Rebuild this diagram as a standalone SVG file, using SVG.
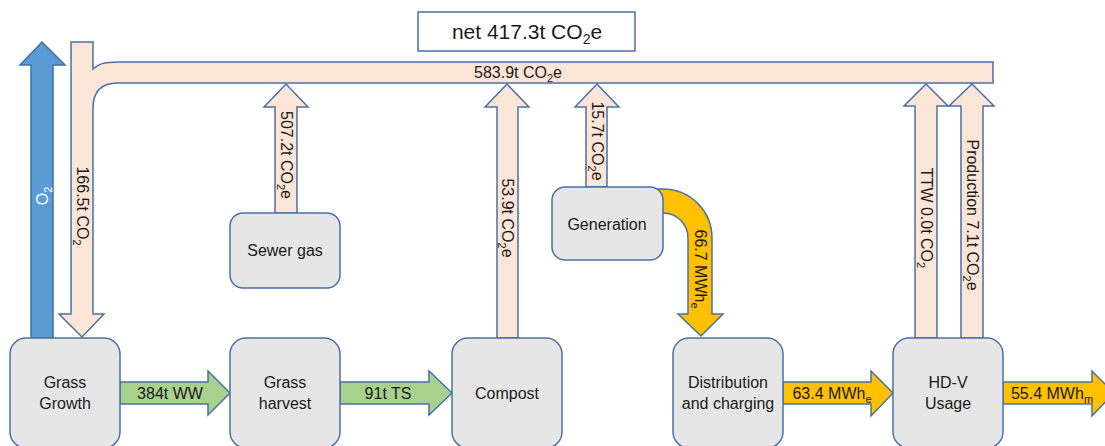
<svg xmlns="http://www.w3.org/2000/svg" width="1105" height="446" viewBox="0 0 1105 446">
<style>
.node{fill:#e7e6e6;stroke:#4a70a8;stroke-width:1.5}
.peach{fill:#fbe5d6;stroke:#4a70a8;stroke-width:1.5;stroke-linejoin:miter}
.blue{fill:#5b9bd5;stroke:#41719c;stroke-width:1.5}
.green{fill:#a9d18e;stroke:#4a70a8;stroke-width:1.5}
.orange{fill:#ffc000;stroke:#4a70a8;stroke-width:1.5}
text{font-family:"Liberation Sans",Arial,sans-serif;font-size:16px;fill:#1a1a1a;text-anchor:middle}
.w{fill:#ffffff}
.sub{font-size:11px}
</style>
<g id="connectors">
  <path id="co2-band" class="peach" d="M71 42 L93 42 L93 69 C98 64 104 62 118 62 L993 62 L993 83 L118 83 Q93 83 93 108 L93 314 L104 314 L82 337 L59 314 L71 314 Z"/>
  <polygon id="o2-arrow" class="blue" points="31,338 31,65 20,65 42,42 65,65 53,65 53,338"/>
  <polygon id="sewer-arrow" class="peach" points="275,213 275,107 264,107 286,84 308,107 297,107 297,213"/>
  <polygon id="compost-arrow" class="peach" points="497,338 497,107 485,107 507,84 529,107 518,107 518,338"/>
  <polygon id="gen-arrow" class="peach" points="586,187 586,107 575,107 597,84 619,107 607,107 607,187"/>
  <polygon id="ttw-arrow" class="peach" points="915,338 915,106 904,106 926,84 948,106 937,106 937,338"/>
  <polygon id="prod-arrow" class="peach" points="961,338 961,106 949,106 972,84 994,106 983,106 983,338"/>
  <path id="gen-dist-arrow" class="orange" d="M650 189 L663 189 A49 49 0 0 1 712 238 L712 314 L723 314 L701 336 L678 314 L688 314 L688 238 A25 25 0 0 0 663 213 L650 213 Z"/>
  <polygon id="ww-arrow" class="green" points="120,382 208,382 208,371 230,393 208,415 208,404 120,404"/>
  <polygon id="ts-arrow" class="green" points="340,382 429,382 429,371 452,393 429,415 429,404 340,404"/>
  <polygon id="mwhe-arrow" class="orange" points="783,382 871,382 871,371 893,393 871,416 871,404 783,404"/>
  <polygon id="mwhm-arrow" class="orange" points="1003,382 1092,382 1092,371 1114,393 1092,416 1092,404 1003,404"/>

  <text x="518" y="78">583.9t CO<tspan class="sub" dy="4">2</tspan><tspan dy="-4">e</tspan></text>
  <text class="w" transform="translate(42,196) rotate(-90)" x="0" y="5.5">O<tspan class="sub" dy="4">2</tspan></text>
  <text transform="translate(82,206) rotate(90)" x="0" y="5.5">166.5t CO<tspan class="sub" dy="4">2</tspan></text>
  <text transform="translate(286,155) rotate(90)" x="0" y="5.5">507.2t CO<tspan class="sub" dy="4">2</tspan><tspan dy="-4">e</tspan></text>
  <text transform="translate(507,218) rotate(90)" x="0" y="5.5">53.9t CO<tspan class="sub" dy="4">2</tspan><tspan dy="-4">e</tspan></text>
  <text transform="translate(597,141) rotate(90)" x="0" y="5.5">15.7t CO<tspan class="sub" dy="4">2</tspan><tspan dy="-4">e</tspan></text>
  <text transform="translate(700,269) rotate(90)" x="0" y="5.5">66.7 MWh<tspan class="sub" dy="4">e</tspan></text>
  <text transform="translate(926,218) rotate(90)" x="0" y="5.5">TTW 0.0t CO<tspan class="sub" dy="4">2</tspan></text>
  <text transform="translate(972,215) rotate(90)" x="0" y="5.5">Production 7.1t CO<tspan class="sub" dy="4">2</tspan><tspan dy="-4">e</tspan></text>
  <text x="170" y="399">384t WW</text>
  <text x="388" y="399">91t TS</text>
  <text x="832" y="399">63.4 MWh<tspan class="sub" dy="4">e</tspan></text>
  <text x="1052" y="399">55.4 MWh<tspan class="sub" dy="4">m</tspan></text>
</g>
<g id="net-box">
  <rect x="418" y="12" width="217" height="39" fill="#ffffff" stroke="#4a70a8" stroke-width="1.5"/>
  <text x="527" y="39" style="font-size:21px">net 417.3t CO<tspan style="font-size:14px" dy="5">2</tspan><tspan dy="-5">e</tspan></text>
</g>
<g id="grass-growth">
  <rect class="node" x="10" y="338" width="110" height="110" rx="16"/>
  <text x="65" y="388">Grass</text>
  <text x="65" y="409">Growth</text>
</g>
<g id="grass-harvest">
  <rect class="node" x="230" y="338" width="110" height="110" rx="16"/>
  <text x="285" y="388">Grass</text>
  <text x="285" y="409">harvest</text>
</g>
<g id="sewer-gas">
  <rect class="node" x="230" y="213" width="110" height="75" rx="13"/>
  <text x="285" y="256">Sewer gas</text>
</g>
<g id="compost">
  <rect class="node" x="452" y="338" width="110" height="110" rx="16"/>
  <text x="507" y="399">Compost</text>
</g>
<g id="generation">
  <rect class="node" x="552" y="187" width="111" height="73" rx="13"/>
  <text x="607" y="230">Generation</text>
</g>
<g id="distribution">
  <rect class="node" x="673" y="338" width="110" height="110" rx="16"/>
  <text x="728" y="388">Distribution</text>
  <text x="728" y="409">and charging</text>
</g>
<g id="hdv-usage">
  <rect class="node" x="893" y="338" width="110" height="110" rx="16"/>
  <text x="948" y="388">HD-V</text>
  <text x="948" y="409">Usage</text>
</g>
</svg>
